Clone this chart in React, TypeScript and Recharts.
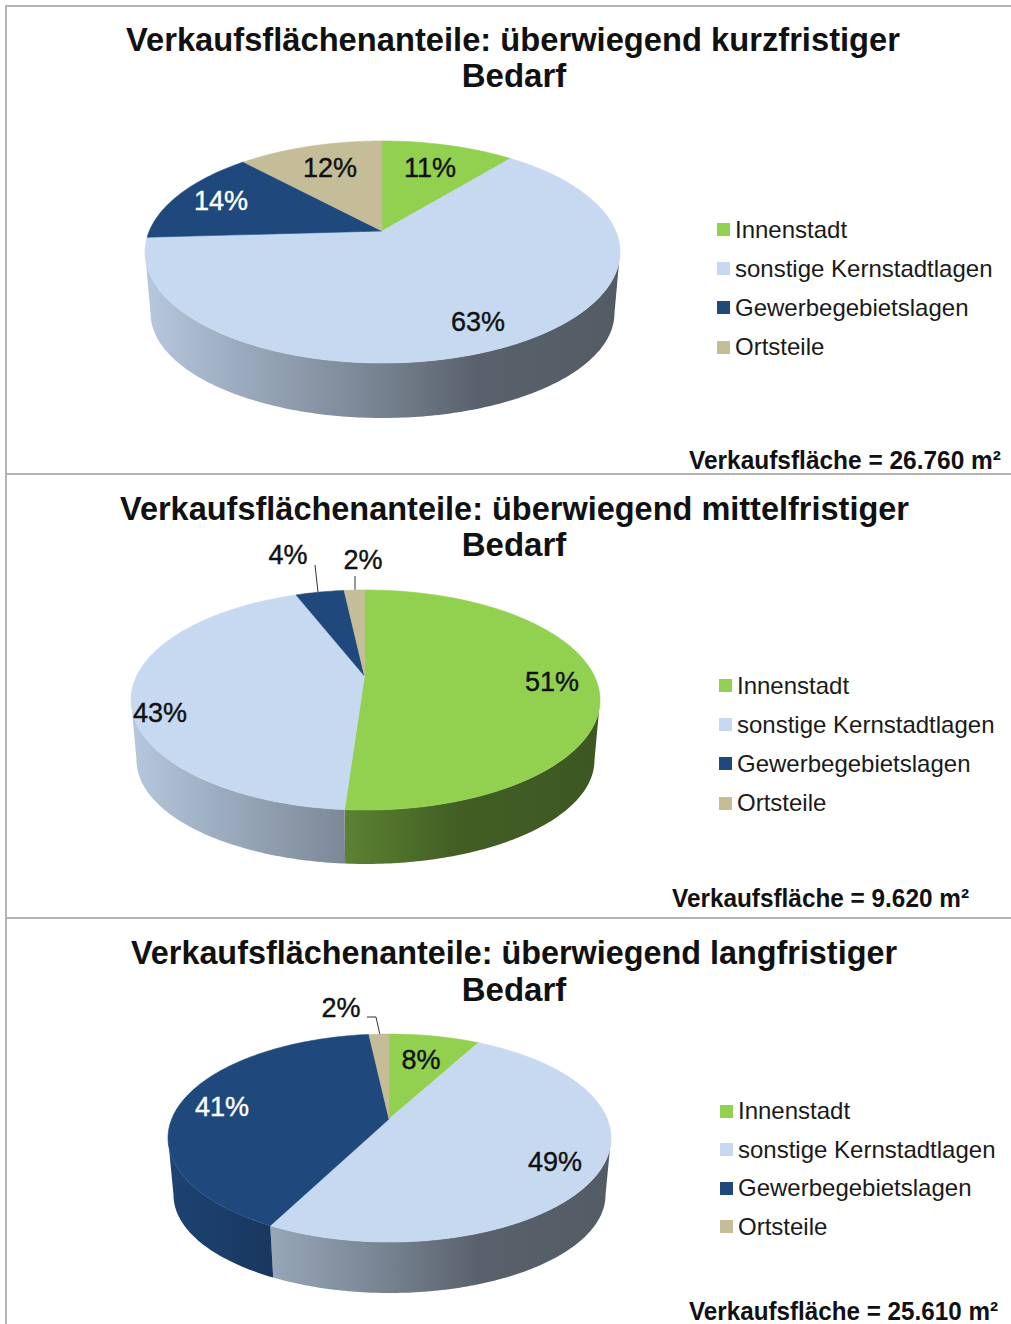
import { Legend, Pie, PieChart } from 'recharts'

const categories = ['Innenstadt', 'sonstige Kernstadtlagen', 'Gewerbegebietslagen', 'Ortsteile']
const colors = ['#92d050', '#c6d9f1', '#1f497d', '#c4bd97']

const shortValues = [11, 63, 14, 12]
const mediumValues = [51, 43, 4, 2]
const longValues = [8, 49, 41, 2]

const FONT = '"Liberation Sans", Arial, sans-serif'

const buildRows = (values: number[]) =>
  values.map((value, i) => ({ name: categories[i], value, fill: colors[i] }))

// wall shading, as a fraction of the slice colour across the width of the pie
const shadeStops = [
  [0, 0.92],
  [0.24, 0.76],
  [0.45, 0.63],
  [0.7, 0.45],
  [1, 0.42],
]

const shade = (hex: string, f: number) => {
  const n = parseInt(hex.slice(1), 16)
  const c = [(n >> 16) & 255, (n >> 8) & 255, n & 255].map((v) => Math.round(v * f))
  return `rgb(${c.join(',')})`
}

const rad = (d: number) => (d * Math.PI) / 180

interface Geometry {
  id: string
  apexX: number
  apexY: number
  ex: number
  ey: number
  rx: number
  ry: number
  depth: number
}

// perspective: radial lines near the back get steeper, near the front flatter
function tiltFactor(cosTheta: number) {
  if (cosTheta <= 0) return 0.9
  return 1 + 0.18 * Math.max(0, (cosTheta - 0.97) / 0.03)
}

// boundary point of the tilted pie: ray from the apex onto the rim ellipse
function rimParam(g: Geometry, theta: number) {
  const cosT = Math.cos(rad(theta))
  const ux = Math.sin(rad(theta))
  const uy = -cosT * tiltFactor(cosT)
  const ox = (g.apexX - g.ex) / g.rx
  const oy = (g.apexY - g.ey) / g.ry
  const a = ux * ux + uy * uy
  const b = 2 * (ox * ux + oy * uy)
  const c = ox * ox + oy * oy - 1
  const s = (-b + Math.sqrt(b * b - 4 * a * c)) / (2 * a)
  const t = (Math.atan2(ox + ux * s, -(oy + uy * s)) * 180) / Math.PI
  return t < -1 ? t + 360 : t
}

function sampleRange(from: number, to: number) {
  const out: number[] = []
  for (let t = from; t < to; t += 1) out.push(t)
  out.push(to)
  return out
}

function SliceShape({ geometry: g, top, ...props }: any) {
  const { startAngle, endAngle, fill, index } = props
  const ey = g.ey - top
  const t1 = rimParam(g, 90 - startAngle)
  let t2 = rimParam(g, 90 - endAngle)
  if (t2 <= t1) t2 += 360

  const rim = (t: number) => `${g.ex + g.rx * Math.sin(rad(t))},${ey - g.ry * Math.cos(rad(t))}`
  const foot = (t: number) =>
    `${g.ex + (g.rx - 5.5) * Math.sin(rad(t))},${ey + g.depth - (g.ry - 6) * Math.cos(rad(t))}`

  const face = `M${g.apexX},${g.apexY - top} L` + sampleRange(t1, t2).map(rim).join(' L') + ' Z'

  const w1 = Math.max(t1, 90)
  const w2 = Math.min(t2, 270)
  const gradientId = `wall-${g.id}-${index}`

  return (
    <g>
      {w2 > w1 && (
        <>
          <defs>
            <linearGradient
              id={gradientId}
              gradientUnits="userSpaceOnUse"
              x1={g.ex - g.rx}
              x2={g.ex + g.rx}
              y1={0}
              y2={0}
            >
              {shadeStops.map(([o, f]) => (
                <stop key={o} offset={o} stopColor={shade(fill, f)} />
              ))}
            </linearGradient>
          </defs>
          <path
            d={
              'M' +
              sampleRange(w1, w2).map(rim).join(' L') +
              ' L' +
              sampleRange(w1, w2).reverse().map(foot).join(' L') +
              ' Z'
            }
            fill={`url(#${gradientId})`}
          />
        </>
      )}
      <path d={face} fill={fill} stroke={fill} strokeWidth={0.6} />
    </g>
  )
}

function PieLegend({ payload, spacing }: any) {
  return (
    <div style={{ fontFamily: FONT, fontSize: 24, color: '#1a1a1a' }}>
      {(payload ?? []).map((entry: any) => (
        <div key={entry.value} style={{ height: spacing, display: 'flex', alignItems: 'center', whiteSpace: 'nowrap' }}>
          <span style={{ width: 13, height: 13, background: entry.color, marginRight: 5, flex: 'none' }} />
          <span>{entry.value}</span>
        </div>
      ))}
    </div>
  )
}

interface Panel {
  id: string
  top: number
  height: number
  values: number[]
  geometry: Geometry
  title: string
  titleX: [number, number]
  titleBase: [number, number]
  labelSpots: number[][]
  labelColors: string[]
  leaders: number[][][]
  legendX: number
  legendY: number
  legendStep: number
  note: string
  noteX: [number, number]
  noteBase: number
}

const panels: Panel[] = [
  {
    id: 'short',
    top: 0,
    height: 474,
    values: shortValues,
    geometry: { id: 'short', apexX: 382, apexY: 231, ex: 382.5, ey: 252, rx: 237.5, ry: 111, depth: 61 },
    title: 'Verkaufsflächenanteile: überwiegend kurzfristiger',
    titleX: [126, 900],
    titleBase: [51, 87],
    labelSpots: [[430, 168], [478, 322], [221, 201], [330, 168]],
    labelColors: ['#111', '#111', '#fff', '#111'],
    leaders: [],
    legendX: 717,
    legendY: 210,
    legendStep: 39.2,
    note: 'Verkaufsfläche = 26.760 m²',
    noteX: [689, 1001],
    noteBase: 469,
  },
  {
    id: 'medium',
    top: 474,
    height: 444,
    values: mediumValues,
    geometry: { id: 'medium', apexX: 364.5, apexY: 676, ex: 365.5, ey: 700, rx: 234.5, ry: 110, depth: 60 },
    title: 'Verkaufsflächenanteile: überwiegend mittelfristiger',
    titleX: [120, 909],
    titleBase: [520, 556],
    labelSpots: [[552, 682], [160, 713], [288, 555], [363, 560]],
    labelColors: ['#111', '#111', '#111', '#111'],
    leaders: [[[315, 565], [318, 592]], [[355, 576], [355, 590]]],
    legendX: 719,
    legendY: 666,
    legendStep: 39.2,
    note: 'Verkaufsfläche = 9.620 m²',
    noteX: [672, 969],
    noteBase: 907,
  },
  {
    id: 'long',
    top: 918,
    height: 406,
    values: longValues,
    geometry: { id: 'long', apexX: 389, apexY: 1119, ex: 389.5, ey: 1138, rx: 221.5, ry: 104, depth: 57 },
    title: 'Verkaufsflächenanteile: überwiegend langfristiger',
    titleX: [131, 897],
    titleBase: [964, 1001],
    labelSpots: [[421, 1060], [555, 1162], [222, 1107], [341, 1008]],
    labelColors: ['#111', '#111', '#fff', '#111'],
    leaders: [[[367, 1017], [376, 1017], [380, 1035]]],
    legendX: 720,
    legendY: 1092,
    legendStep: 38.5,
    note: 'Verkaufsfläche = 25.610 m²',
    noteX: [689, 998],
    noteBase: 1320,
  },
]

function PanelChart({ panel }: { panel: Panel }) {
  const { top, geometry: g } = panel

  const renderLabel = (props: any) => {
    const i = props.index
    const [x, y] = panel.labelSpots[i]
    return (
      <text
        key={i}
        x={x}
        y={y - top}
        fill={panel.labelColors[i]}
        stroke={panel.labelColors[i]}
        strokeWidth={0.4}
        textAnchor="middle"
        dominantBaseline="central"
        style={{ fontFamily: FONT, fontSize: 27 }}
      >
        {`${panel.values[i]}%`}
      </text>
    )
  }

  return (
    <div style={{ position: 'absolute', left: 0, top, width: 1011, height: panel.height }}>
      <PieChart width={1011} height={panel.height} margin={{ top: 0, right: 0, bottom: 0, left: 0 }}>
        <text
          x={panel.titleX[0]}
          y={panel.titleBase[0] - top}
          textLength={panel.titleX[1] - panel.titleX[0]}
          lengthAdjust="spacingAndGlyphs"
          style={{ fontFamily: FONT, fontSize: 33, fontWeight: 700 }}
          fill="#111"
        >
          {panel.title}
        </text>
        <text
          x={514}
          y={panel.titleBase[1] - top}
          textAnchor="middle"
          style={{ fontFamily: FONT, fontSize: 33, fontWeight: 700 }}
          fill="#111"
        >
          Bedarf
        </text>
        <Pie
          data={buildRows(panel.values)}
          dataKey="value"
          nameKey="name"
          cx={g.apexX}
          cy={g.apexY - top}
          outerRadius={g.rx}
          startAngle={90}
          endAngle={-270}
          stroke="none"
          isAnimationActive={false}
          shape={(props: any) => <SliceShape {...props} geometry={g} top={top} />}
          label={renderLabel}
          labelLine={false}
        />
        {panel.leaders.map((line, i) => (
          <polyline
            key={i}
            points={line.map(([x, y]) => `${x},${y - top}`).join(' ')}
            fill="none"
            stroke="#333"
            strokeWidth={1}
          />
        ))}
        <text
          x={panel.noteX[0]}
          y={panel.noteBase - top}
          textLength={panel.noteX[1] - panel.noteX[0]}
          lengthAdjust="spacingAndGlyphs"
          style={{ fontFamily: FONT, fontSize: 25, fontWeight: 700 }}
          fill="#111"
        >
          {panel.note}
        </text>
        <Legend
          layout="vertical"
          align="right"
          verticalAlign="top"
          itemSorter={null}
          wrapperStyle={{ left: panel.legendX, top: panel.legendY - top, right: 'auto', width: 290 }}
          content={(props: any) => <PieLegend {...props} spacing={panel.legendStep} />}
        />
      </PieChart>
    </div>
  )
}

const rules = [
  { left: 6, top: 5, width: 1005, height: 2 },
  { left: 6, top: 473, width: 1005, height: 2 },
  { left: 6, top: 917, width: 1005, height: 2 },
  { left: 5, top: 5, width: 2, height: 1319 },
]

export default function App() {
  return (
    <div style={{ position: 'absolute', left: 0, top: 0, width: 1011, height: 1324, background: '#fff', overflow: 'hidden' }}>
      {panels.map((panel) => (
        <PanelChart key={panel.id} panel={panel} />
      ))}
      {rules.map((r, i) => (
        <div key={i} style={{ position: 'absolute', background: '#b4b4b4', ...r }} />
      ))}
    </div>
  )
}
